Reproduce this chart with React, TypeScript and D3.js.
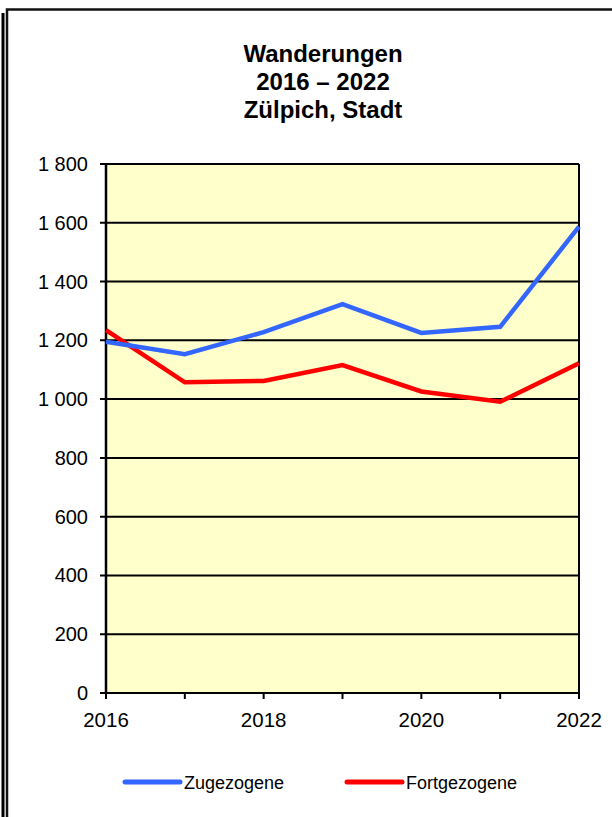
import * as d3 from 'd3';
import { useEffect, useRef } from 'react';

const years = [2016, 2017, 2018, 2019, 2020, 2021, 2022];
const zugezogene = [1195, 1153, 1228, 1323, 1225, 1246, 1587];
const fortgezogene = [1235, 1057, 1062, 1116, 1026, 991, 1122];
const yTicks = [0, 200, 400, 600, 800, 1000, 1200, 1400, 1600, 1800];
const xLabelYears = [2016, 2018, 2020, 2022];
const titleLines = ['Wanderungen', '2016 – 2022', 'Zülpich, Stadt'];
const series = [
    { name: 'Zugezogene', values: zugezogene, color: '#3366ff' },
    { name: 'Fortgezogene', values: fortgezogene, color: '#ff0000' },
];

function App() {
    const svgRef = useRef<SVGSVGElement>(null);

    useEffect(() => {
        if (!svgRef.current) return;
        const svg = d3.select(svgRef.current);
        svg.selectAll('*').remove();

        const font = 'Liberation Sans, Arial, sans-serif';
        const x = d3.scaleLinear().domain([2016, 2022]).range([106, 579]);
        const y = d3.scaleLinear().domain([0, 1800]).range([693, 164]);

        // frame
        svg.append('line')
            .attr('x1', 3).attr('x2', 3)
            .attr('y1', 13).attr('y2', 817)
            .attr('stroke', '#000').attr('stroke-width', 3);
        svg.append('rect')
            .attr('x', 7).attr('y', 9.5)
            .attr('width', 640).attr('height', 840)
            .attr('fill', 'none')
            .attr('stroke', '#111').attr('stroke-width', 2.5);

        // title
        svg.append('g').selectAll('text')
            .data(titleLines)
            .enter().append('text')
            .attr('x', 323)
            .attr('y', (d, i) => 62 + i * 28)
            .attr('text-anchor', 'middle')
            .attr('font-family', font)
            .attr('font-weight', 'bold')
            .attr('font-size', 24)
            .text(d => d);

        // plot area
        svg.append('rect')
            .attr('x', x(2016)).attr('y', y(1800))
            .attr('width', x(2022) - x(2016))
            .attr('height', y(0) - y(1800))
            .attr('fill', '#ffffcc');

        // grid
        svg.append('g').selectAll('line')
            .data(yTicks)
            .enter().append('line')
            .attr('x1', x(2016) - 6).attr('x2', x(2022))
            .attr('y1', d => y(d)).attr('y2', d => y(d))
            .attr('stroke', '#000').attr('stroke-width', 2);

        // right border
        svg.append('line')
            .attr('x1', x(2022)).attr('x2', x(2022))
            .attr('y1', y(1800)).attr('y2', y(0))
            .attr('stroke', '#000').attr('stroke-width', 2);

        // y axis
        svg.append('line')
            .attr('x1', x(2016)).attr('x2', x(2016))
            .attr('y1', y(1800) - 1).attr('y2', y(0) + 1)
            .attr('stroke', '#000').attr('stroke-width', 2.5);

        // x ticks
        svg.append('g').selectAll('line')
            .data(years)
            .enter().append('line')
            .attr('x1', d => x(d)).attr('x2', d => x(d))
            .attr('y1', y(0)).attr('y2', y(0) + 6)
            .attr('stroke', '#000').attr('stroke-width', 2);

        svg.append('g').selectAll('text')
            .data(yTicks)
            .enter().append('text')
            .attr('x', 88)
            .attr('y', d => y(d) + 7)
            .attr('text-anchor', 'end')
            .attr('font-family', font)
            .attr('font-size', 20)
            .attr('xml:space', 'preserve')
            .text(d => d3.format(',')(d).replace(',', ' '));

        svg.append('g').selectAll('text')
            .data(xLabelYears)
            .enter().append('text')
            .attr('x', d => x(d))
            .attr('y', 727)
            .attr('text-anchor', 'middle')
            .attr('font-family', font)
            .attr('font-size', 20.5)
            .text(d => d);

        // lines
        const line = d3.line<number>()
            .x((d, i) => x(years[i]))
            .y(d => y(d));

        series.slice().reverse().forEach(s => {
            svg.append('path')
                .datum(s.values)
                .attr('d', line)
                .attr('fill', 'none')
                .attr('stroke', s.color)
                .attr('stroke-width', 4.5)
                .attr('stroke-linejoin', 'miter');
        });

        // legend
        const legend = svg.append('g').selectAll('g')
            .data(series)
            .enter().append('g')
            .attr('transform', (d, i) => `translate(${125 + i * 222}, 782)`);
        legend.append('line')
            .attr('x1', 0).attr('x2', 55)
            .attr('stroke', d => d.color)
            .attr('stroke-width', 5)
            .attr('stroke-linecap', 'round');
        legend.append('text')
            .attr('x', 59).attr('y', 6.5)
            .attr('font-family', font)
            .attr('font-size', 18)
            .text(d => d.name);
    }, []);

    return (
        <svg ref={svgRef} width={612} height={817}
            style={{ position: 'absolute', left: 0, top: 0, background: '#fff' }} />
    );
}

export default App;
